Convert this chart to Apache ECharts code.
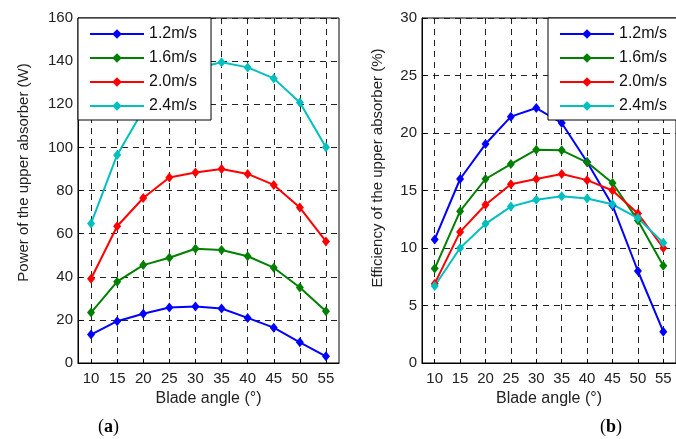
<!DOCTYPE html>
<html>
<head>
<meta charset="utf-8">
<script src="https://cdn.jsdelivr.net/npm/echarts@6/dist/echarts.min.js"></script>
<style>
html,body{margin:0;padding:0;background:#fff;}
#c{width:676px;height:439px;}
</style>
</head>
<body>
<div id="c"></div>
<script>
// ---- data ----
var angles = [10, 15, 20, 25, 30, 35, 40, 45, 50, 55];
var seriesNames = ['1.2m/s', '1.6m/s', '2.0m/s', '2.4m/s'];
var power12 = [13.2, 19.4, 22.8, 25.7, 26.2, 25.3, 20.9, 16.4, 9.6, 3.1];
var power16 = [23.4, 37.7, 45.4, 48.8, 53.0, 52.4, 49.5, 44.2, 35.0, 24.0];
var power20 = [39.1, 63.4, 76.5, 86.0, 88.3, 90.0, 87.7, 82.6, 72.1, 56.4];
var power24 = [64.7, 96.5, 117.3, 130.8, 136.6, 139.5, 137.1, 132.0, 120.8, 100.1];
var eff12 = [10.75, 16.0, 19.04, 21.42, 22.17, 20.87, 17.48, 13.7, 8.0, 2.72];
var eff16 = [8.21, 13.2, 16.0, 17.3, 18.55, 18.49, 17.45, 15.65, 12.4, 8.46];
var eff20 = [6.9, 11.4, 13.76, 15.55, 16.0, 16.43, 15.9, 15.0, 13.0, 10.0];
var eff24 = [6.7, 10.0, 12.1, 13.6, 14.2, 14.5, 14.3, 13.8, 12.6, 10.46];
var powerTicks = [0, 20, 40, 60, 80, 100, 120, 140, 160];
var effTicks = [0, 5, 10, 15, 20, 25, 30];
var xTicks = [10, 15, 20, 25, 30, 35, 40, 45, 50, 55];

var colors = ['#0000ff', '#008000', '#ff0000', '#00bfbf'];
var powerData = [power12, power16, power20, power24];
var effData = [eff12, eff16, eff20, eff24];

function pairs(vals) { return angles.map(function (a, i) { return [a, vals[i]]; }); }

var FONT = 'Liberation Sans, Arial, sans-serif';
var dashed = { show: true, lineStyle: { color: '#222', type: [6, 5], width: 1 } };

function xAxis(idx) {
  return {
    type: 'value', gridIndex: idx, min: 7.5, max: 57.5,
    name: 'Blade angle (°)', nameLocation: 'middle', nameGap: 27,
    nameTextStyle: { fontFamily: FONT, fontSize: 16, color: '#222' },
    axisLine: { show: true, lineStyle: { color: '#000', width: 1 } },
    axisTick: { show: true, inside: true, length: 4, customValues: xTicks, lineStyle: { color: '#000' } },
    axisLabel: { customValues: xTicks, margin: 8, fontFamily: FONT, fontSize: 15, color: '#222' },
    splitLine: dashed
  };
}
function yAxis(idx, name, ticks, gap, shift) {
  return {
    type: 'value', gridIndex: idx, min: ticks[0], max: ticks[ticks.length - 1],
    interval: ticks[1] - ticks[0],
    name: name, nameLocation: 'middle', nameGap: gap,
    nameTextStyle: { fontFamily: FONT, fontSize: 15, color: '#222', padding: [0, 0, 0, shift] },
    axisLine: { show: true, lineStyle: { color: '#000', width: 1 } },
    axisTick: { show: true, inside: true, length: 4, lineStyle: { color: '#000' } },
    axisLabel: { margin: 5, fontFamily: FONT, fontSize: 15, color: '#222' },
    splitLine: dashed
  };
}

var series = [];
for (var k = 0; k < 4; k++) {
  series.push({
    name: seriesNames[k], type: 'line', xAxisIndex: 0, yAxisIndex: 0,
    data: pairs(powerData[k]), color: colors[k],
    symbol: 'diamond', symbolSize: [8, 10], showSymbol: true,
    lineStyle: { width: 2 }, itemStyle: { color: colors[k] }, animation: false
  });
}
for (var k2 = 0; k2 < 4; k2++) {
  series.push({
    name: seriesNames[k2], type: 'line', xAxisIndex: 1, yAxisIndex: 1,
    data: pairs(effData[k2]), color: colors[k2],
    symbol: 'diamond', symbolSize: [8, 10], showSymbol: true,
    lineStyle: { width: 2 }, itemStyle: { color: colors[k2] }, animation: false
  });
}

function legend(left) {
  return {
    left: left, top: 18, orient: 'vertical',
    data: seriesNames,
    backgroundColor: '#fff', borderColor: '#000', borderWidth: 1,
    padding: [8, 14, 6, 11], itemGap: 8, itemWidth: 54, itemHeight: 12,
    textStyle: { fontFamily: FONT, fontSize: 16, color: '#111' },
    selectedMode: false, z: 10
  };
}

var chart = echarts.init(document.getElementById('c'), null, { renderer: 'canvas' });
chart.setOption({
  backgroundColor: '#fff',
  animation: false,
  grid: [
    { left: 78, top: 18, width: 261, height: 345, show: true, borderColor: '#000', borderWidth: 1, containLabel: false },
    { left: 422, top: 18, width: 260, height: 345, show: true, borderColor: '#000', borderWidth: 1, containLabel: false }
  ],
  xAxis: [xAxis(0), xAxis(1)],
  yAxis: [
    yAxis(0, 'Power of the upper absorber (W)', powerTicks, 47, 36),
    yAxis(1, 'Efficiency of the upper absorber (%)', effTicks, 37, 45)
  ],
  legend: [legend(78), legend(548)],
  series: series,
  graphic: [
    { type: 'text', left: 98, top: 418, style: { text: '{p|(}{b|a}{p|)}', rich: {
      p: { fontFamily: 'Liberation Serif, DejaVu Serif, serif', fontSize: 18, fill: '#000' },
      b: { fontFamily: 'Liberation Serif, DejaVu Serif, serif', fontSize: 18, fontWeight: 'bold', fill: '#000' } } } },
    { type: 'text', left: 600, top: 418, style: { text: '{p|(}{b|b}{p|)}', rich: {
      p: { fontFamily: 'Liberation Serif, DejaVu Serif, serif', fontSize: 18, fill: '#000' },
      b: { fontFamily: 'Liberation Serif, DejaVu Serif, serif', fontSize: 18, fontWeight: 'bold', fill: '#000' } } } }
  ]
});
</script>
</body>
</html>
